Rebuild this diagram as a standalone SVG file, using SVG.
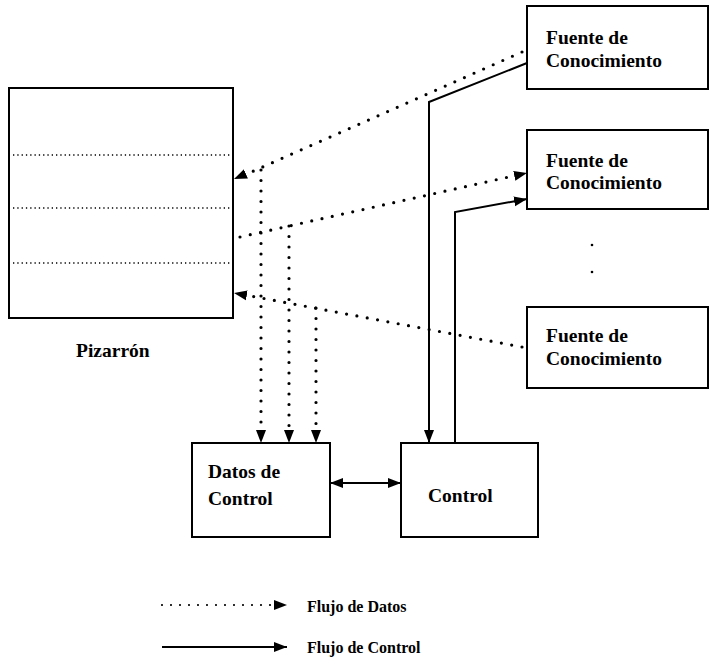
<svg xmlns="http://www.w3.org/2000/svg" width="709" height="665" viewBox="0 0 709 665">
<defs>
<marker id="ah" markerUnits="userSpaceOnUse" markerWidth="14" markerHeight="12" refX="13" refY="6" orient="auto">
<path d="M0,1 L13,6 L0,11 Z" fill="#000"/>
</marker>
<marker id="ahs" markerUnits="userSpaceOnUse" markerWidth="14" markerHeight="12" refX="1" refY="6" orient="auto">
<path d="M14,1 L1,6 L14,11 Z" fill="#000"/>
</marker>
<style>
.box{fill:#fff;stroke:#000;stroke-width:2}
.t{font-family:"Liberation Serif","Times New Roman",serif;font-weight:bold;font-size:19.5px;fill:#000}
.lg{font-family:"Liberation Serif","Times New Roman",serif;font-weight:bold;font-size:16px;fill:#000}
.dot{fill:none;stroke:#000;stroke-width:3.2;stroke-linecap:round;stroke-dasharray:0 10.5}
.fine{fill:none;stroke:#000;stroke-width:1.3;stroke-dasharray:1.3 3}
.sol{fill:none;stroke:#000;stroke-width:2}
</style>
</defs>
<rect width="709" height="665" fill="#fff"/>

<g id="pizarron">
<rect class="box" x="9" y="88" width="224" height="230"/>
<line class="fine" x1="13" y1="155" x2="230" y2="155"/>
<line class="fine" x1="13" y1="208" x2="230" y2="208"/>
<line class="fine" x1="13" y1="263" x2="230" y2="263"/>
<text class="t" x="76" y="357">Pizarrón</text>
</g>

<g id="fuente1">
<rect class="box" x="527" y="6" width="181" height="83"/>
<text class="t" x="546" y="44">Fuente de</text>
<text class="t" x="546" y="67">Conocimiento</text>
</g>

<g id="fuente2">
<rect class="box" x="527" y="130" width="181" height="79"/>
<text class="t" x="546" y="167">Fuente de</text>
<text class="t" x="546" y="189">Conocimiento</text>
</g>

<g id="fuente3">
<rect class="box" x="527" y="307" width="181" height="81"/>
<text class="t" x="546" y="342">Fuente de</text>
<text class="t" x="546" y="365">Conocimiento</text>
</g>

<g id="ellipsis">
<circle cx="592" cy="245" r="1.3" fill="#000"/>
<circle cx="592" cy="272" r="1.3" fill="#000"/>
</g>

<g id="datos">
<rect class="box" x="192" y="443" width="138" height="94"/>
<text class="t" x="208" y="478">Datos de</text>
<text class="t" x="208" y="505">Control</text>
</g>

<g id="control">
<rect class="box" x="401" y="443" width="137" height="94"/>
<text class="t" x="428" y="502">Control</text>
</g>

<g id="connectors">
<!-- data flows -->
<line class="dot" x1="522" y1="52" x2="240" y2="177"/>
<line class="dot" x1="240" y1="237" x2="522" y2="174"/>
<line class="dot" x1="522" y1="347" x2="240" y2="294"/>
<line x1="527" y1="52" x2="234" y2="179" stroke="none" marker-end="url(#ah)"/>
<line x1="240" y1="236" x2="527" y2="173" stroke="none" marker-end="url(#ah)"/>
<line x1="527" y1="347" x2="234" y2="293" stroke="none" marker-end="url(#ah)"/>
<line class="dot" x1="261" y1="170" x2="261" y2="432"/>
<line class="dot" x1="289" y1="226" x2="289" y2="432"/>
<line class="dot" x1="316" y1="308" x2="316" y2="432"/>
<line x1="261" y1="420" x2="261" y2="443" stroke="none" marker-end="url(#ah)"/>
<line x1="289" y1="420" x2="289" y2="443" stroke="none" marker-end="url(#ah)"/>
<line x1="316" y1="420" x2="316" y2="443" stroke="none" marker-end="url(#ah)"/>
<!-- control flows -->
<polyline class="sol" points="527,63 429,102 429,443" marker-end="url(#ah)"/>
<polyline class="sol" points="455,443 455,212 527,199" marker-end="url(#ah)"/>
<line class="sol" x1="330" y1="483" x2="401" y2="483" marker-start="url(#ahs)" marker-end="url(#ah)"/>
</g>

<g id="legend">
<line x1="162" y1="605" x2="276" y2="605" fill="none" stroke="#000" stroke-width="2.2" stroke-linecap="round" stroke-dasharray="0 9"/>
<line x1="270" y1="605" x2="287" y2="605" stroke="none" marker-end="url(#ah)"/>
<line class="sol" x1="162" y1="647" x2="287" y2="647" marker-end="url(#ah)"/>
<text class="lg" x="307" y="612">Flujo de Datos</text>
<text class="lg" x="307" y="653">Flujo de Control</text>
</g>
</svg>
